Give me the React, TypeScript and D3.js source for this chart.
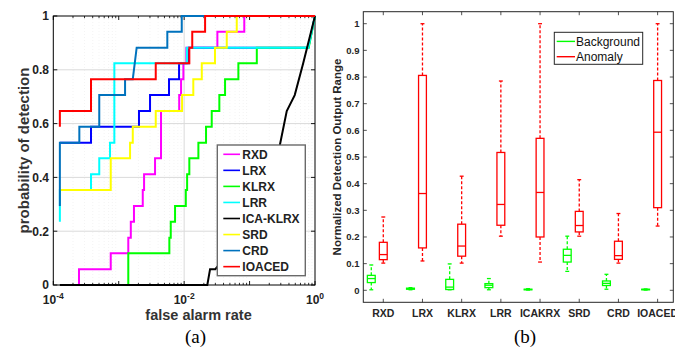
import React from 'react';
import * as d3 from 'd3';

type P = [number, number];

// ---------- (a) ROC curves: [false alarm rate, probability of detection] ----------
const rocNames = ['RXD', 'LRX', 'KLRX', 'LRR', 'ICA-KLRX', 'SRD', 'CRD', 'IOACED'];
const rocColors = ['#ff00ff', '#0000ff', '#00ff00', '#00ffff', '#000000', '#ffff00', '#0072bd', '#ff0000'];

const rxdRoc: P[] = [[1.26e-4, 0], [2.47e-4, 0], [2.47e-4, 0.059], [7.55e-4, 0.059], [7.55e-4, 0.118], [1.4e-3, 0.118], [1.4e-3, 0.176], [1.53e-3, 0.176], [1.53e-3, 0.235], [1.71e-3, 0.235], [1.71e-3, 0.294], [2.33e-3, 0.294], [2.33e-3, 0.353], [2.44e-3, 0.353], [2.44e-3, 0.412], [3.59e-3, 0.412], [3.59e-3, 0.471], [4.43e-3, 0.471], [4.43e-3, 0.647], [8.4e-3, 0.647], [8.4e-3, 0.706], [8.97e-3, 0.706], [8.97e-3, 0.765], [9.73e-3, 0.765], [9.73e-3, 0.824], [1.08e-2, 0.824], [1.08e-2, 0.882], [3.22e-2, 0.882], [3.22e-2, 0.941], [8.3e-2, 0.941], [8.3e-2, 1], [1, 1]];
const lrxRoc: P[] = [[1.26e-4, 0.529], [3.77e-4, 0.529], [3.77e-4, 0.588], [2.04e-3, 0.588], [2.04e-3, 0.647], [3.01e-3, 0.647], [3.01e-3, 0.706], [5.87e-3, 0.706], [5.87e-3, 0.765], [8.36e-3, 0.765], [8.36e-3, 0.824], [1.18e-2, 0.824], [1.18e-2, 0.882], [0.79, 0.882], [1, 1]];
const klrxRoc: P[] = [[1.26e-4, 0], [1.4e-3, 0], [1.4e-3, 0.118], [5.94e-3, 0.118], [5.94e-3, 0.176], [6.24e-3, 0.176], [6.24e-3, 0.235], [7.26e-3, 0.235], [7.26e-3, 0.294], [1.06e-2, 0.294], [1.06e-2, 0.353], [1.11e-2, 0.353], [1.11e-2, 0.412], [1.2e-2, 0.412], [1.2e-2, 0.471], [1.65e-2, 0.471], [1.65e-2, 0.529], [2.16e-2, 0.529], [2.16e-2, 0.588], [2.64e-2, 0.588], [2.64e-2, 0.647], [3.45e-2, 0.647], [3.45e-2, 0.706], [4.22e-2, 0.706], [4.22e-2, 0.765], [6.74e-2, 0.765], [6.74e-2, 0.824], [0.129, 0.824], [0.129, 0.882], [0.8, 0.882], [1, 1]];
const lrrRoc: P[] = [[1.26e-4, 0.235], [1.26e-4, 0.353], [3.77e-4, 0.353], [3.77e-4, 0.412], [5.04e-4, 0.412], [5.04e-4, 0.471], [7.36e-4, 0.471], [7.36e-4, 0.529], [8.57e-4, 0.529], [8.57e-4, 0.824], [1.1e-2, 0.824], [1.1e-2, 0.882], [0.79, 0.882], [1, 1]];
const icaKlrxRoc: P[] = [[1.26e-4, 0], [2.26e-2, 0], [2.49e-2, 0.059], [3.0e-2, 0.059], [0.06, 0.15], [0.12, 0.3], [0.2, 0.42], [0.29, 0.52], [0.37, 0.647], [0.49, 0.706], [0.66, 0.824], [1, 1]];
const srdRoc: P[] = [[1.26e-4, 0.353], [7.55e-4, 0.353], [7.55e-4, 0.471], [1.49e-3, 0.471], [1.49e-3, 0.529], [1.64e-3, 0.529], [1.64e-3, 0.588], [3.68e-3, 0.588], [3.68e-3, 0.647], [9.3e-3, 0.647], [9.3e-3, 0.706], [1.38e-2, 0.706], [1.38e-2, 0.765], [1.86e-2, 0.765], [1.86e-2, 0.824], [2.96e-2, 0.824], [2.96e-2, 0.882], [4.48e-2, 0.882], [4.48e-2, 0.941], [6.37e-2, 0.941], [6.37e-2, 1], [1, 1]];
const crdRoc: P[] = [[1.26e-4, 0.294], [1.26e-4, 0.529], [2.5e-4, 0.529], [2.5e-4, 0.588], [5.04e-4, 0.588], [5.04e-4, 0.706], [1.25e-3, 0.706], [1.25e-3, 0.765], [1.64e-3, 0.765], [1.88e-3, 0.882], [5.53e-3, 0.882], [5.53e-3, 0.941], [9.19e-3, 0.941], [9.19e-3, 1], [1, 1]];
const ioacedRoc: P[] = [[1.26e-4, 0.588], [1.26e-4, 0.647], [3.77e-4, 0.647], [3.77e-4, 0.765], [3.68e-3, 0.765], [3.68e-3, 0.824], [1.2e-2, 0.824], [1.2e-2, 0.882], [1.33e-2, 0.882], [1.33e-2, 0.941], [2.09e-2, 0.941], [2.09e-2, 1], [1, 1]];
const rocData = [rxdRoc, lrxRoc, klrxRoc, lrrRoc, icaKlrxRoc, srdRoc, crdRoc, ioacedRoc];

const yTicksA = [0, 0.2, 0.4, 0.6, 0.8, 1];
const yTickLabelsA = ['0', '0.2', '0.4', '0.6', '0.8', '1'];
const xTicksA = [1e-4, 1e-2, 1];
const xTickExpA = ['-4', '-2', '0'];

// ---------- (b) box plots ----------
const boxCats = ['RXD', 'LRX', 'KLRX', 'LRR', 'ICAKRX', 'SRD', 'CRD', 'IOACED'];
const bgMin = [0.002, 0.002, 0.002, 0.002, 0.001, 0.071, 0.004, 0.001];
const bgQ1 = [0.029, 0.004, 0.003, 0.01, 0.002, 0.106, 0.018, 0.002];
const bgMed = [0.044, 0.006, 0.012, 0.019, 0.003, 0.131, 0.026, 0.003];
const bgQ3 = [0.056, 0.008, 0.041, 0.025, 0.004, 0.154, 0.035, 0.004];
const bgMax = [0.095, 0.01, 0.099, 0.044, 0.006, 0.203, 0.06, 0.005];
const anMin = [0.102, 0.11, 0.102, 0.203, 0.106, 0.203, 0.102, 0.241];
const anQ1 = [0.115, 0.159, 0.128, 0.244, 0.2, 0.219, 0.116, 0.31];
const anMed = [0.134, 0.363, 0.166, 0.322, 0.367, 0.243, 0.13, 0.593];
const anQ3 = [0.18, 0.806, 0.248, 0.517, 0.57, 0.296, 0.184, 0.787];
const anMax = [0.275, 1.0, 0.428, 0.785, 1.0, 0.415, 0.288, 1.0];
const yTicksB = [0, 0.1, 0.2, 0.3, 0.4, 0.5, 0.6, 0.7, 0.8, 0.9, 1];
const yTickLabelsB = ['0', '0.1', '0.2', '0.3', '0.4', '0.5', '0.6', '0.7', '0.8', '0.9', '1'];
const boxSeries = ['Background', 'Anomaly'];
const boxColors = ['#00ff00', '#ff0000'];

const SANS = '"Liberation Sans", Arial, Helvetica, sans-serif';
const SERIF = '"Liberation Serif", "Times New Roman", serif';

function ChartA() {
  const x = d3.scaleLog().domain([1e-4, 1]).range([53.3, 315]);
  const y = d3.scaleLinear().domain([0, 1]).range([285, 16]);
  const line = d3.line<P>().x(d => x(d[0])).y(d => y(d[1]));
  const [x0, x1] = x.range();
  const [y0, y1] = y.range();
  const allTicks = x.ticks();
  const decades = allTicks.filter(t => Math.abs(Math.log10(t) - Math.round(Math.log10(t))) < 1e-9);
  const minors = allTicks.filter(t => !decades.includes(t));
  const legX = 217.3, legY = 145, legW = 88, legH = 130.7;
  return (
    <g>
      {minors.map((t, i) => (
        <line key={'mg' + i} x1={x(t)} x2={x(t)} y1={y1} y2={y0} stroke="#ececec" strokeWidth={0.6} strokeDasharray="1,2" />
      ))}
      {yTicksA.slice(1, -1).map((t, i) => (
        <line key={'yg' + i} x1={x0} x2={x1} y1={y(t)} y2={y(t)} stroke="#dadada" strokeWidth={1} />
      ))}
      {xTicksA.slice(1, -1).map((t, i) => (
        <line key={'xg' + i} x1={x(t)} x2={x(t)} y1={y1} y2={y0} stroke="#dadada" strokeWidth={1} />
      ))}
      {minors.map((t, i) => (
        <g key={'mt' + i} stroke="#000" strokeWidth={0.8}>
          <line x1={x(t)} x2={x(t)} y1={y0} y2={y0 - 2.2} />
          <line x1={x(t)} x2={x(t)} y1={y1} y2={y1 + 2.2} />
        </g>
      ))}
      {decades.map((t, i) => (
        <g key={'dt' + i} stroke="#000" strokeWidth={0.9}>
          <line x1={x(t)} x2={x(t)} y1={y0} y2={y0 - 4} />
          <line x1={x(t)} x2={x(t)} y1={y1} y2={y1 + 4} />
        </g>
      ))}
      {yTicksA.map((t, i) => (
        <g key={'yt' + i} stroke="#000" strokeWidth={0.9}>
          <line x1={x0} x2={x0 + 4} y1={y(t)} y2={y(t)} />
          <line x1={x1} x2={x1 - 4} y1={y(t)} y2={y(t)} />
        </g>
      ))}
      <rect x={x0} y={y1} width={x1 - x0} height={y0 - y1} fill="none" stroke="#000" strokeWidth={1} />
      {rocData.map((d, i) => (
        <path key={'c' + i} d={line(d) || ''} fill="none" stroke={rocColors[i]} strokeWidth={2} strokeLinejoin="miter" />
      ))}
      {yTicksA.map((t, i) => (
        <text key={'yl' + i} x={49} y={y(t) + 4.3} textAnchor="end" fontFamily={SANS} fontWeight="bold" fontSize={12} fill="#222">
          {yTickLabelsA[i]}
        </text>
      ))}
      {xTicksA.map((t, i) => (
        <text key={'xl' + i} x={x(t)} y={304} textAnchor="middle" fontFamily={SANS} fontWeight="bold" fontSize={12} fill="#222">
          10<tspan fontSize={8.5} dy={-5.5}>{xTickExpA[i]}</tspan>
        </text>
      ))}
      <text x={198.5} y={320} textAnchor="middle" fontFamily={SANS} fontWeight="bold" fontSize={14.5} fill="#333">false alarm rate</text>
      <text transform="translate(28.5,150.5) rotate(-90)" textAnchor="middle" fontFamily={SANS} fontWeight="bold" fontSize={15} fill="#333">probability of detection</text>
      <text x={195.5} y={343} textAnchor="middle" fontFamily={SERIF} fontSize={19} fill="#000">(a)</text>
      <rect x={legX} y={legY} width={legW} height={legH} fill="#fff" stroke="#6a6a6a" strokeWidth={1.4} />
      {rocNames.map((n, i) => {
        const cy = 154.3 + i * 16.05;
        return (
          <g key={'lg' + i}>
            <line x1={223.3} x2={240} y1={cy} y2={cy} stroke={rocColors[i]} strokeWidth={1.6} />
            <text x={242.3} y={cy + 4.3} fontFamily={SANS} fontWeight="bold" fontSize={12} fill="#222">{n}</text>
          </g>
        );
      })}
    </g>
  );
}

function ChartB() {
  const x = d3.scaleLinear().domain([-0.51, 7.4]).range([363.3, 673.3]);
  const y = d3.scaleLinear().domain([-0.045, 1.045]).range([302.3, 11.7]);
  const [x0, x1] = x.range();
  const [y0, y1] = y.range();
  const offsets = [-0.306, 0];
  const halfW = 0.1;
  const capHalf = 0.05;
  const groups = [
    [bgMin, bgQ1, bgMed, bgQ3, bgMax],
    [anMin, anQ1, anMed, anQ3, anMax],
  ];
  const axisColor = '#262626';
  return (
    <g>
      {yTicksB.map((t, i) => (
        <g key={'yt' + i} stroke={axisColor} strokeWidth={0.8}>
          <line x1={x0} x2={x0 + 3.5} y1={y(t)} y2={y(t)} />
          <line x1={x1} x2={x1 - 3.5} y1={y(t)} y2={y(t)} />
        </g>
      ))}
      {boxCats.map((c, i) => (
        <g key={'xt' + i} stroke={axisColor} strokeWidth={0.8}>
          <line x1={x(i)} x2={x(i)} y1={y0} y2={y0 - 3.5} />
          <line x1={x(i)} x2={x(i)} y1={y1} y2={y1 + 3.5} />
        </g>
      ))}
      <rect x={x0} y={y1} width={x1 - x0} height={y0 - y1} fill="none" stroke={axisColor} strokeWidth={1} />
      {groups.map((g, gi) =>
        boxCats.map((c, i) => {
          const cx = x(i + offsets[gi]);
          const bl = x(i + offsets[gi] - halfW);
          const br = x(i + offsets[gi] + halfW);
          const cl = x(i + offsets[gi] - capHalf);
          const cr = x(i + offsets[gi] + capHalf);
          const [mn, q1, md, q3, mx] = g.map(a => a[i]);
          const col = boxColors[gi];
          return (
            <g key={'b' + gi + '-' + i} stroke={col} fill="none" strokeWidth={1.3}>
              <line x1={cx} x2={cx} y1={y(q3)} y2={y(mx)} strokeDasharray="3,2" />
              <line x1={cx} x2={cx} y1={y(q1)} y2={y(mn)} strokeDasharray="3,2" />
              <line x1={cl} x2={cr} y1={y(mx)} y2={y(mx)} />
              <line x1={cl} x2={cr} y1={y(mn)} y2={y(mn)} />
              <rect x={bl} y={y(q3)} width={br - bl} height={Math.max(0.5, y(q1) - y(q3))} />
              <line x1={bl} x2={br} y1={y(md)} y2={y(md)} />
            </g>
          );
        })
      )}
      {yTicksB.map((t, i) => (
        <text key={'yl' + i} x={359.5} y={y(t) + 3.4} textAnchor="end" fontFamily={SANS} fontWeight="bold" fontSize={9.5} fill={axisColor}>
          {yTickLabelsB[i]}
        </text>
      ))}
      {boxCats.map((c, i) => (
        <text key={'xl' + i} x={x(i)} y={316.5} textAnchor="middle" fontFamily={SANS} fontWeight="bold" fontSize={10.5} fill={axisColor}>
          {c}
        </text>
      ))}
      <text transform="translate(341,157) rotate(-90)" textAnchor="middle" fontFamily={SANS} fontWeight="bold" fontSize={11.5} fill={axisColor}>
        Normalized Detection Output Range
      </text>
      <text x={525} y={343} textAnchor="middle" fontFamily={SERIF} fontSize={19} fill="#000">(b)</text>
      <rect x={554.3} y={32.3} width={88.4} height={32} fill="#fff" stroke={axisColor} strokeWidth={1} />
      {boxSeries.map((s, i) => {
        const cy = 41.4 + i * 15.3;
        return (
          <g key={'lgb' + i}>
            <line x1={556.7} x2={575} y1={cy} y2={cy} stroke={boxColors[i]} strokeWidth={1.4} />
            <text x={576} y={cy + 4.3} fontFamily={SANS} fontSize={12} fill="#111">{s}</text>
          </g>
        );
      })}
    </g>
  );
}

export default function App() {
  return (
    <svg width={675} height={348} viewBox="0 0 675 348" style={{ position: 'absolute', left: 0, top: 0, background: '#fff' }}>
      <rect x={0} y={0} width={675} height={348} fill="#fff" />
      <ChartA />
      <ChartB />
    </svg>
  );
}
